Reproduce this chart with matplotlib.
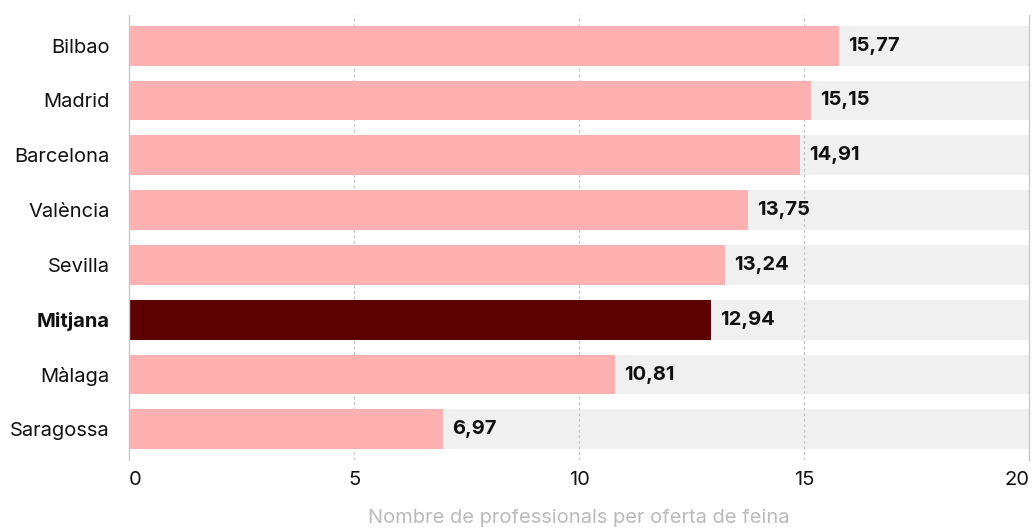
import matplotlib
matplotlib.use("Agg")
import matplotlib.pyplot as plt

# data
cities = ["Bilbao", "Madrid", "Barcelona", "València", "Sevilla", "Mitjana", "Màlaga", "Saragossa"]
values = [15.77, 15.15, 14.91, 13.75, 13.24, 12.94, 10.81, 6.97]
labels = ["15,77", "15,15", "14,91", "13,75", "13,24", "12,94", "10,81", "6,97"]
highlight = "Mitjana"
x_max = 20
x_ticks = [0, 5, 10, 15, 20]

PINK, DARK, BG = "#FFB1B2", "#5C0000", "#F0F0F0"

plt.rcParams["font.family"] = ["Inter", "DejaVu Sans"]
fig = plt.figure(figsize=(10.33, 5.28), dpi=100)
ax = fig.add_axes([129 / 1033, 1 - 460 / 528, 900 / 1033, 445 / 528])

ys = list(range(len(cities)))
h = 0.727
ax.barh(ys, [x_max] * len(cities), height=h, color=BG, zorder=1)
cols = [DARK if c == highlight else PINK for c in cities]
ax.barh(ys, values, height=h, color=cols, zorder=3)

for y, v, lab in zip(ys, values, labels):
    ax.annotate(lab, (v, y), xytext=(9, 0), textcoords="offset pixels",
                va="center", ha="left", fontsize=14.5, fontweight="bold", color="#111111", zorder=4)

# dotted grid sits over the grey track but under the coloured bars
for t in x_ticks[1:-1]:
    ax.axvline(t, color="#c8c8c8", lw=1, ls=(0, (2, 2)), zorder=2)

ax.set_xlim(0, x_max)
ax.set_ylim(len(cities) - 0.44, -0.56)
ax.set_xticks(x_ticks)
ax.set_xticklabels([str(t) for t in x_ticks], fontsize=14.5, color="#111111")
ax.get_xticklabels()[-1].set_ha("right")
ax.get_xticklabels()[0].set_ha("left")
ax.set_yticks(ys)
ax.set_yticklabels(cities, fontsize=14.5, color="#111111")
for lbl in ax.get_yticklabels():
    if lbl.get_text() == highlight:
        lbl.set_fontweight("bold")
ax.tick_params(axis="both", length=0)
ax.tick_params(axis="y", pad=14)
ax.tick_params(axis="x", pad=8)

for s in ["top", "bottom"]:
    ax.spines[s].set_visible(False)
for s in ["left", "right"]:
    ax.spines[s].set_color("#c8c8c8")
    ax.spines[s].set_linewidth(1)
    ax.spines[s].set_zorder(5)

ax.set_xlabel("Nombre de professionals per oferta de feina", fontsize=14.5, color="#bbbbbb", labelpad=14)

fig.savefig("out.png", dpi=100)
